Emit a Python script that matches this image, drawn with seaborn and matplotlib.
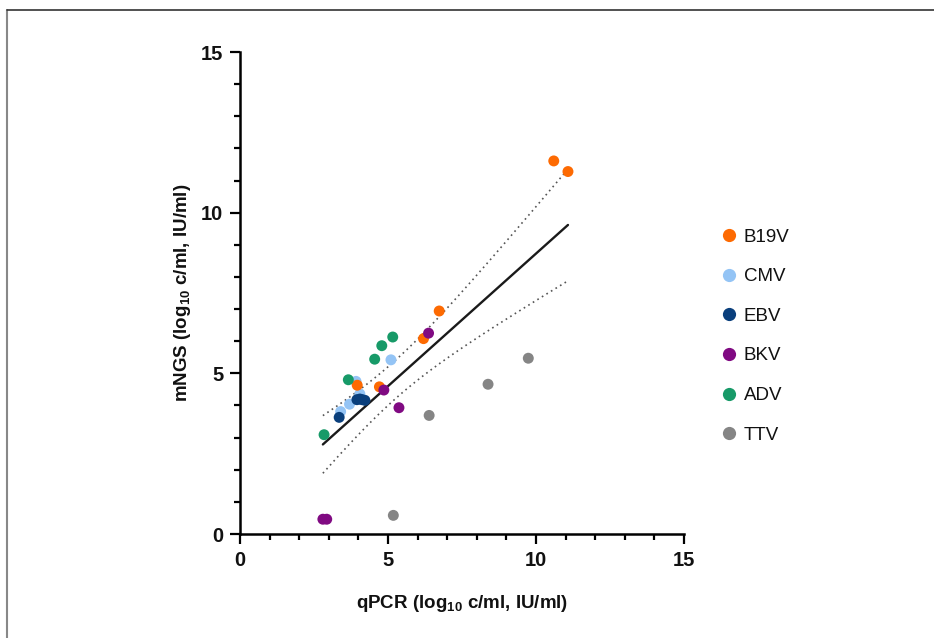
import numpy as np
import pandas as pd
import matplotlib
matplotlib.use("Agg")
import matplotlib.pyplot as plt
from matplotlib.lines import Line2D
from matplotlib.ticker import MultipleLocator
import seaborn as sns

# ---- data ----
b19v_x = [10.60, 11.08, 6.73, 6.20, 3.96, 4.71]
b19v_y = [11.61, 11.28, 6.94, 6.08, 4.63, 4.58]
cmv_x = [5.10, 3.92, 4.05, 3.70, 3.40]
cmv_y = [5.42, 4.75, 4.36, 4.04, 3.81]
ebv_x = [3.35, 3.95, 4.05, 4.13, 4.22]
ebv_y = [3.63, 4.18, 4.20, 4.18, 4.16]
bkv_x = [6.37, 4.86, 5.37, 2.80, 2.93]
bkv_y = [6.25, 4.48, 3.93, 0.46, 0.46]
adv_x = [5.16, 4.79, 4.55, 3.66, 2.84]
adv_y = [6.13, 5.86, 5.44, 4.80, 3.09]
ttv_x = [9.74, 8.38, 6.39, 5.18]
ttv_y = [5.47, 4.66, 3.69, 0.58]

viruses = ["B19V", "CMV", "EBV", "BKV", "ADV", "TTV"]
colors = ["#fd6a02", "#94c4f5", "#0a3f7c", "#800a82", "#179a68", "#858585"]
draw_order = ["CMV", "B19V", "EBV", "BKV", "ADV", "TTV"]
x_ticks = [0, 5, 10, 15]
y_ticks = [0, 5, 10, 15]

series = {
    "B19V": (b19v_x, b19v_y), "CMV": (cmv_x, cmv_y), "EBV": (ebv_x, ebv_y),
    "BKV": (bkv_x, bkv_y), "ADV": (adv_x, adv_y), "TTV": (ttv_x, ttv_y),
}
rows = []
for v in draw_order:
    for x, y in zip(*series[v]):
        rows.append({"qPCR": x, "mNGS": y, "virus": v})
df = pd.DataFrame(rows)

# ---- style ----
sns.set_theme(style="ticks")
plt.rcParams["font.family"] = ["Liberation Sans", "DejaVu Sans"]
plt.rcParams["mathtext.fontset"] = "custom"
plt.rcParams["mathtext.rm"] = "Liberation Sans:bold"
plt.rcParams["mathtext.bf"] = "Liberation Sans:bold"

fig = plt.figure(figsize=(9.34, 6.38), dpi=100)
ax = fig.add_axes([240 / 934, 1 - 534 / 638, 444 / 934, 482 / 638])

palette = dict(zip(viruses, colors))
sns.scatterplot(data=df, x="qPCR", y="mNGS", hue="virus", hue_order=draw_order,
                palette=palette, s=62, edgecolor="none", linewidth=0,
                legend=False, ax=ax, zorder=3)

# ---- linear regression with 95% CI of the mean (all points) ----
xv = df["qPCR"].to_numpy(); yv = df["mNGS"].to_numpy()
n = len(xv)
b, a = np.polyfit(xv, yv, 1)
s = np.sqrt(np.sum((yv - (a + b * xv)) ** 2) / (n - 2))
xm = xv.mean(); sxx = np.sum((xv - xm) ** 2)
t_crit = 2.048  # t(0.975, df=28)
xg = np.linspace(xv.min(), xv.max(), 200)
yg = a + b * xg
half = t_crit * s * np.sqrt(1 / n + (xg - xm) ** 2 / sxx)
ax.plot(xg, yg, color="#1a1a1a", lw=1.7, zorder=2)
ax.plot(xg, yg + half, color="#555555", lw=1.2, ls=(0, (1, 2.2)), zorder=2)
ax.plot(xg, yg - half, color="#555555", lw=1.2, ls=(0, (1, 2.2)), zorder=2)

# ---- axes ----
ax.set_xlim(0, 15)
ax.set_ylim(0, 15)
ax.set_xticks(x_ticks)
ax.set_yticks(y_ticks)
ax.xaxis.set_minor_locator(MultipleLocator(1))
ax.yaxis.set_minor_locator(MultipleLocator(1))
ax.tick_params(which="major", length=7, width=1.6, color="black", labelsize=14.5,
               pad=5, direction="out", labelcolor="#111111")
ax.tick_params(which="minor", length=4.5, width=1.6, color="black", direction="out")
for lab in ax.get_xticklabels() + ax.get_yticklabels():
    lab.set_fontweight("bold")
for side in ["top", "right"]:
    ax.spines[side].set_visible(False)
for side in ["left", "bottom"]:
    ax.spines[side].set_linewidth(1.8)
    ax.spines[side].set_color("black")
ax.set_xlabel(r"qPCR (log$_{10}$ c/ml, IU/ml)", fontsize=13.5, fontweight="bold",
              labelpad=17, color="#111111")
ax.set_ylabel(r"mNGS (log$_{10}$ c/ml, IU/ml)", fontsize=13.5, fontweight="bold",
              labelpad=6, color="#111111")

# ---- legend ----
handles = [Line2D([0], [0], marker="o", ls="none", markersize=9.5,
                  markerfacecolor=c, markeredgecolor="none") for c in colors]
fig.legend(handles, viruses, loc="upper left", bbox_to_anchor=(712 / 934, 1 - 221 / 638),
           frameon=False, fontsize=13.5, labelspacing=1.2, handletextpad=0.3,
           handlelength=1.0, borderaxespad=0, labelcolor="#111111")

# ---- frame lines of the figure (top and left) ----
fig.add_artist(Line2D([7 / 934, 7 / 934], [0, 1 - 10 / 638], transform=fig.transFigure,
                      color="#888888", lw=1.5))
fig.add_artist(Line2D([7 / 934, 1], [1 - 10 / 638, 1 - 10 / 638], transform=fig.transFigure,
                      color="#333333", lw=1.2))

fig.savefig("out.png", dpi=100)
